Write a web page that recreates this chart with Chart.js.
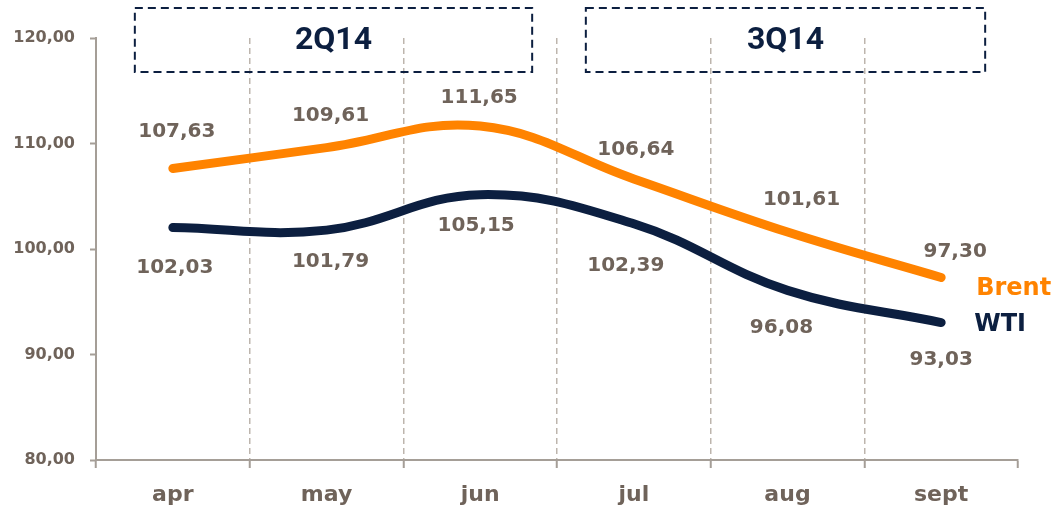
<!DOCTYPE html>
<html>
<head>
<meta charset="utf-8">
<script src="https://cdn.jsdelivr.net/npm/chart.js@4"></script>
<style>
  body { margin: 0; background: #fff; }
  canvas { display: block; }
</style>
</head>
<body>
<canvas id="grafico" width="1055" height="510"></canvas>
<script>
// dados
const meses = ['apr', 'may', 'jun', 'jul', 'aug', 'sept'];
const brent = [107.63, 109.61, 111.65, 106.64, 101.61, 97.30];
const wti = [102.03, 101.79, 105.15, 102.39, 96.08, 93.03];
const eixoY = [80, 90, 100, 110, 120];
const trimestres = ['2Q14', '3Q14'];
const trimestreInicio = [0, 3];
const trimestreFim = [2, 5];

// estilo
const laranja = '#ff8300';
const azul = '#0c1f40';
const cinzaTexto = '#6f635a';
const cinzaEixo = '#a59e97';
const cinzaGrade = '#bdb5ad';
const fonte = 'DejaVu Sans';

// deslocamento dos rotulos (px)
const offBrent = [[4, -37], [4, -32], [-1, -28], [2, -29], [14, -32], [14, -26]];
const offWti = [[2, 40], [4, 32], [-4, 31], [-8, 42], [-6, 37], [0, 37]];
const caixaPad = [[-38, 52], [-48, 44]];

function formatar(v) {
  return v.toFixed(2).replace('.', ',');
}

const rotulosPlugin = {
  id: 'rotulos',
  afterDatasetsDraw(chart) {
    const ctx = chart.ctx;
    const x = chart.scales.x;
    const area = chart.chartArea;

    ctx.save();
    ctx.font = 'bold 20px "' + fonte + '"';
    ctx.fillStyle = cinzaTexto;
    ctx.textAlign = 'center';
    ctx.textBaseline = 'middle';
    [[0, offBrent], [1, offWti]].forEach(([ds, off]) => {
      const meta = chart.getDatasetMeta(ds);
      meta.data.forEach((p, i) => {
        const v = chart.data.datasets[ds].data[i];
        ctx.fillText(formatar(v), p.x + off[i][0], p.y + off[i][1]);
      });
    });

    // nomes das series
    ctx.font = 'bold 24px "' + fonte + '"';
    ctx.textAlign = 'left';
    const ultB = chart.getDatasetMeta(0).data[brent.length - 1];
    const ultW = chart.getDatasetMeta(1).data[wti.length - 1];
    ctx.fillStyle = laranja;
    ctx.fillText('Brent', ultB.x + 35, ultB.y + 11);
    ctx.fillStyle = azul;
    ctx.fillText('WTI', ultW.x + 33, ultW.y + 2);

    // caixas dos trimestres
    ctx.strokeStyle = azul;
    ctx.lineWidth = 2;
    ctx.setLineDash([8, 5]);
    trimestres.forEach((t, i) => {
      const esq = x.getPixelForValue(trimestreInicio[i]) + caixaPad[i][0];
      const dir = x.getPixelForValue(trimestreFim[i]) + caixaPad[i][1];
      const topo = area.top - 30;
      const base = area.top + 34;
      ctx.strokeRect(esq, topo, dir - esq, base - topo);
      ctx.fillStyle = azul;
      ctx.font = 'bold 32px Roboto';
      ctx.textAlign = 'center';
      ctx.fillText(t, (esq + dir) / 2, (topo + base) / 2 + 1);
    });
    ctx.restore();
  }
};

const config = {
  type: 'line',
  data: {
    labels: meses,
    datasets: [
      {
        label: 'Brent',
        data: brent,
        borderColor: laranja,
        borderWidth: 9,
        borderCapStyle: 'round',
        borderJoinStyle: 'round',
        tension: 0.4,
        pointRadius: 0,
        fill: false,
        clip: false
      },
      {
        label: 'WTI',
        data: wti,
        borderColor: azul,
        borderWidth: 9,
        borderCapStyle: 'round',
        borderJoinStyle: 'round',
        tension: 0.4,
        pointRadius: 0,
        fill: false,
        clip: false
      }
    ]
  },
  options: {
    responsive: false,
    animation: false,
    layout: { padding: { top: 38, right: 37, left: 0, bottom: 0 } },
    plugins: {
      legend: { display: false },
      tooltip: { enabled: false }
    },
    scales: {
      x: {
        offset: true,
        grid: {
          offset: true,
          drawOnChartArea: true,
          drawTicks: true,
          tickLength: 8,
          lineWidth: 1.5,
          tickWidth: 2,
          borderDash: [6, 4],
          tickBorderDash: [],
          tickColor: cinzaEixo,
          color: (c) => (c.index > 0 && c.index < meses.length) ? cinzaGrade : 'rgba(0,0,0,0)'
        },
        border: { display: true, color: cinzaEixo, width: 2, dash: [6, 4] },
        ticks: {
          color: cinzaTexto,
          padding: 14,
          font: { family: fonte, weight: 'bold', size: 22 }
        },
        afterFit: (s) => { s.height = 50; }
      },
      y: {
        min: eixoY[0],
        max: eixoY[eixoY.length - 1],
        afterBuildTicks: (s) => { s.ticks = eixoY.map(v => ({ value: v })); },
        grid: {
          drawOnChartArea: false,
          drawTicks: true,
          tickLength: 6,
          tickWidth: 2,
          tickColor: cinzaEixo
        },
        border: { display: true, color: cinzaEixo, width: 2 },
        ticks: {
          color: cinzaTexto,
          padding: 15,
          font: { family: fonte, weight: 'bold', size: 16 },
          callback: (v) => formatar(v)
        },
        afterFit: (s) => { s.width = 96; }
      }
    }
  },
  plugins: [rotulosPlugin]
};

new Chart(document.getElementById('grafico'), config);
</script>
</body>
</html>
